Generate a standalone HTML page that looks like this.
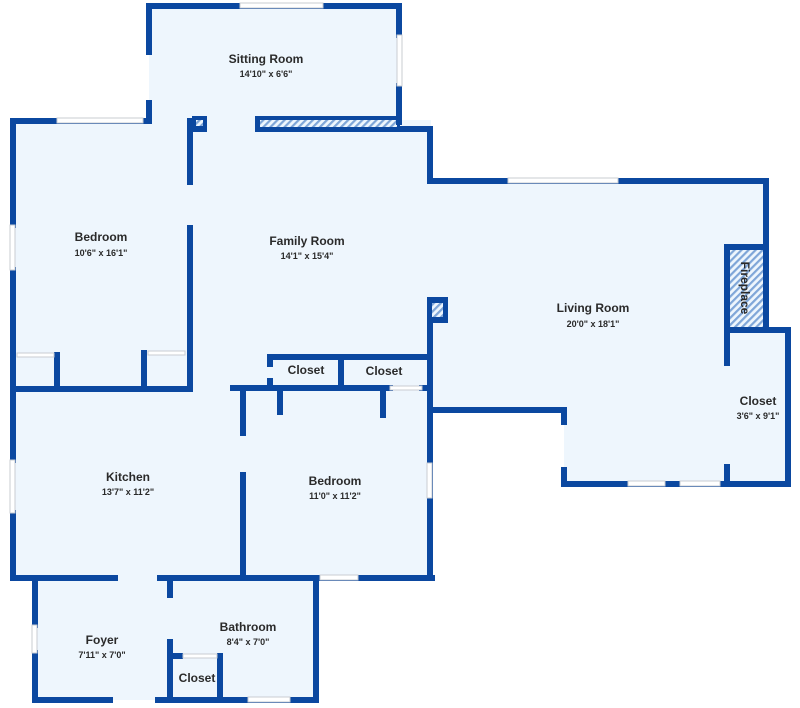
<!DOCTYPE html>
<html><head><meta charset="utf-8"><style>
html,body{margin:0;padding:0;background:#fff;}
svg{display:block;}
text{font-family:"Liberation Sans","DejaVu Sans",sans-serif;fill:#2a2a2a;text-anchor:middle;}
.n{font-size:12px;font-weight:bold;}
.d{font-size:9px;font-weight:bold;}
</style></head><body>
<svg width="800" height="708" viewBox="0 0 800 708" xmlns="http://www.w3.org/2000/svg">
<defs>
<pattern id="h" width="5" height="5" patternUnits="userSpaceOnUse" patternTransform="rotate(45)">
<rect width="5" height="5" fill="#eef6fd"/><rect width="2.2" height="5" fill="#7fa6d8"/>
</pattern>
</defs>
<g fill="#eef6fd">
<rect x="149" y="6" width="250" height="124"/>
<rect x="13" y="118" width="178" height="271"/>
<rect x="190" y="120" width="241" height="291"/>
<rect x="430" y="181" width="336" height="230"/>
<rect x="564" y="408" width="164" height="77"/>
<rect x="727" y="330" width="62" height="155"/>
<rect x="13" y="388" width="418" height="191"/>
<rect x="33" y="578" width="281" height="122"/>
</g>
<!-- hatched elements -->
<rect x="255" y="116" width="145" height="16" fill="#0b48a0"/>
<rect x="260" y="120" width="137" height="7" fill="url(#h)"/>
<rect x="192" y="116" width="15" height="16" fill="#0b48a0"/>
<rect x="196" y="120" width="7" height="6" fill="url(#h)"/>
<rect x="427" y="297" width="21" height="26" fill="#0b48a0"/>
<rect x="432" y="303" width="11" height="14" fill="url(#h)"/>
<rect x="724" y="244" width="45" height="86" fill="#0b48a0"/>
<rect x="730" y="250" width="33" height="78" fill="url(#h)"/>
<g stroke="#0b48a0" stroke-width="6" stroke-linecap="square" fill="none">
<!-- sitting room -->
<path d="M149 52 V6 H399 V35 M399 86 V122"/>
<path d="M149 103 V120"/>
<!-- bedroom 1 -->
<path d="M13 225 V121 H149 M13 270 V389 H190 V228 M190 182 V121"/>
<path d="M57 389 V355 M144 389 V353"/>
<!-- family right -->
<path d="M400 129 H430 V181 H766 V247"/>
<path d="M430 323 V578"/>
<!-- living -->
<path d="M430 410 H564 V422 M564 470 V484 H788 V330 H727 V363 M727 467 V484"/>
<!-- closets middle -->
<path d="M430 357 H270 V364 M270 381 V388 M341 357 V388"/>
<path d="M233 388 H390 M422 388 H430"/>
<path d="M280 388 V412 M383 388 V415"/>
<!-- bedroom 2 / kitchen -->
<path d="M243 388 V433 M243 475 V578"/>
<path d="M13 389 V460 M13 513 V578 H115 M160 578 H432"/>
<!-- foyer / bathroom -->
<path d="M35 578 V625 M35 653 V700 H110 M158 700 H316 V578"/>
<path d="M170 578 V595 M170 642 V700 M170 656 H180 M220 656 V700"/>
</g>
<!-- window/door lines -->
<g fill="#fff" stroke="#c9ccd2" stroke-width="1">
<rect x="240" y="3" width="83" height="5"/>
<rect x="397" y="35" width="5" height="51"/>
<rect x="57" y="118" width="86" height="5"/>
<rect x="10" y="225" width="5" height="45"/>
<rect x="508" y="178" width="110" height="5"/>
<rect x="628" y="481" width="37" height="5"/>
<rect x="680" y="481" width="40" height="5"/>
<rect x="427" y="463" width="5" height="35"/>
<rect x="320" y="575" width="38" height="5"/>
<rect x="10" y="460" width="5" height="53"/>
<rect x="32" y="625" width="5" height="28"/>
<rect x="248" y="697" width="42" height="5"/>
<rect x="17" y="353" width="37" height="4"/>
<rect x="148" y="351" width="37" height="4"/>
<rect x="390" y="386" width="32" height="4"/>
<rect x="183" y="654" width="34" height="4"/>
</g>
<text class="n" x="266" y="63">Sitting Room</text>
<text class="d" x="266" y="77">14'10" x 6'6"</text>
<text class="n" x="101" y="241">Bedroom</text>
<text class="d" x="101" y="256">10'6" x 16'1"</text>
<text class="n" x="307" y="245">Family Room</text>
<text class="d" x="307" y="259">14'1" x 15'4"</text>
<text class="n" x="593" y="312">Living Room</text>
<text class="d" x="593" y="327">20'0" x 18'1"</text>
<text class="n" x="306" y="374">Closet</text>
<text class="n" x="384" y="375">Closet</text>
<text class="n" x="758" y="405">Closet</text>
<text class="d" x="758" y="419">3'6" x 9'1"</text>
<text class="n" x="128" y="481">Kitchen</text>
<text class="d" x="128" y="495">13'7" x 11'2"</text>
<text class="n" x="335" y="485">Bedroom</text>
<text class="d" x="335" y="499">11'0" x 11'2"</text>
<text class="n" x="102" y="644">Foyer</text>
<text class="d" x="102" y="658">7'11" x 7'0"</text>
<text class="n" x="248" y="631">Bathroom</text>
<text class="d" x="248" y="645">8'4" x 7'0"</text>
<text class="n" x="197" y="682">Closet</text>
<text class="n" x="0" y="0" transform="translate(741,288) rotate(90)">Fireplace</text>
</svg>
</body></html>
